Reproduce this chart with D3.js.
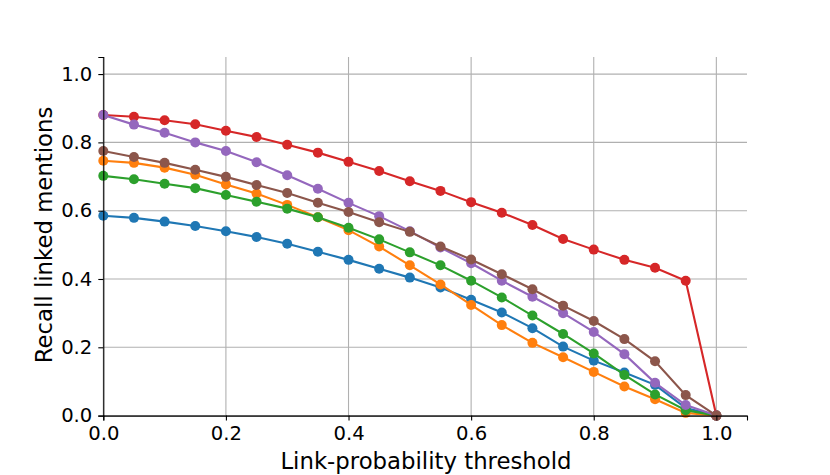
<!DOCTYPE html>
<html>
<head>
<meta charset="utf-8">
<script src="https://cdn.jsdelivr.net/npm/d3@7"></script>
<style>
body { margin: 0; background: #fff; }
text { font-family: "DejaVu Sans", sans-serif; fill: #000; }
</style>
</head>
<body>
<script>
//thresholds on the x axis
var thresholds = [0, 0.05, 0.1, 0.15, 0.2, 0.25, 0.3, 0.35, 0.4, 0.45, 0.5,
                  0.55, 0.6, 0.65, 0.7, 0.75, 0.8, 0.85, 0.9, 0.95, 1.0];

//recall values per series
var blueVals   = [0.585, 0.579, 0.568, 0.555, 0.540, 0.523, 0.503, 0.480, 0.456, 0.430, 0.404,
                  0.375, 0.339, 0.302, 0.256, 0.202, 0.161, 0.126, 0.090, 0.022, 0.0];
var orangeVals = [0.746, 0.740, 0.726, 0.705, 0.677, 0.650, 0.617, 0.581, 0.543, 0.495, 0.440,
                  0.384, 0.324, 0.265, 0.213, 0.171, 0.128, 0.085, 0.048, 0.008, 0.0];
var greenVals  = [0.702, 0.692, 0.679, 0.666, 0.646, 0.626, 0.606, 0.581, 0.550, 0.516, 0.478,
                  0.440, 0.395, 0.346, 0.293, 0.239, 0.182, 0.119, 0.062, 0.016, 0.0];
var redVals    = [0.880, 0.875, 0.865, 0.853, 0.834, 0.816, 0.793, 0.770, 0.743, 0.716, 0.686,
                  0.658, 0.625, 0.594, 0.558, 0.517, 0.486, 0.456, 0.433, 0.395, 0.0];
var purpleVals = [0.880, 0.852, 0.828, 0.800, 0.775, 0.742, 0.704, 0.664, 0.623, 0.584, 0.540,
                  0.492, 0.446, 0.395, 0.348, 0.300, 0.245, 0.180, 0.096, 0.031, 0.0];
var brownVals  = [0.775, 0.757, 0.740, 0.720, 0.699, 0.675, 0.652, 0.623, 0.596, 0.566, 0.538,
                  0.495, 0.457, 0.414, 0.370, 0.322, 0.277, 0.224, 0.159, 0.060, 0.0];

var seriesList = [blueVals, orangeVals, greenVals, redVals, purpleVals, brownVals];
var colors = ["#1f77b4", "#ff7f0e", "#2ca02c", "#d62728", "#9467bd", "#8c564b"];

var tickVals = [0, 0.2, 0.4, 0.6, 0.8, 1.0];

//frame dimensions
var svgWidth = 830,
    svgHeight = 475,
    plotLeft = 103.3,
    plotRight = 747,
    plotTop = 57,
    plotBottom = 415.6;

var svg = d3.select("body")
    .append("svg")
    .attr("width", svgWidth)
    .attr("height", svgHeight);

var xScale = d3.scaleLinear().domain([0, 1.05]).range([plotLeft, plotRight]);
var yScale = d3.scaleLinear().domain([0, 1.05]).range([plotBottom, plotTop]);

//grid lines
svg.selectAll(".xgrid")
    .data(tickVals)
    .enter()
    .append("line")
    .attr("x1", function(d){ return xScale(d); })
    .attr("x2", function(d){ return xScale(d); })
    .attr("y1", plotTop)
    .attr("y2", plotBottom)
    .attr("stroke", "#b0b0b0")
    .attr("stroke-width", 1.1);

svg.selectAll(".ygrid")
    .data(tickVals)
    .enter()
    .append("line")
    .attr("x1", plotLeft)
    .attr("x2", plotRight)
    .attr("y1", function(d){ return yScale(d); })
    .attr("y2", function(d){ return yScale(d); })
    .attr("stroke", "#b0b0b0")
    .attr("stroke-width", 1.1);

//series lines and markers
var line = d3.line()
    .x(function(d, i){ return xScale(thresholds[i]); })
    .y(function(d){ return yScale(d); });

seriesList.forEach(function(vals, k){
    var g = svg.append("g");
    g.append("path")
        .datum(vals)
        .attr("d", line)
        .attr("fill", "none")
        .attr("stroke", colors[k])
        .attr("stroke-width", 2.1);
    g.selectAll("circle")
        .data(vals)
        .enter()
        .append("circle")
        .attr("cx", function(d, i){ return xScale(thresholds[i]); })
        .attr("cy", function(d){ return yScale(d); })
        .attr("r", 5)
        .attr("fill", colors[k]);
});

//axes
var xAxis = d3.axisBottom(xScale)
    .tickValues(tickVals)
    .tickFormat(d3.format(".1f"))
    .tickSize(5)
    .tickPadding(5);

var yAxis = d3.axisLeft(yScale)
    .tickValues(tickVals)
    .tickFormat(d3.format(".1f"))
    .tickSize(5)
    .tickPadding(6);

var gx = svg.append("g")
    .attr("transform", "translate(0," + plotBottom + ")")
    .call(xAxis);

var gy = svg.append("g")
    .attr("transform", "translate(" + plotLeft + ",0)")
    .call(yAxis);

[gx, gy].forEach(function(g){
    g.select(".domain").attr("stroke", "#000").attr("stroke-width", 1.1);
    g.selectAll(".tick line").attr("stroke", "#000").attr("stroke-width", 1.1);
    g.selectAll(".tick text")
        .attr("fill", "#000")
        .style("font-family", "DejaVu Sans")
        .style("font-size", "19.6px");
});

//axis titles
svg.append("text")
    .attr("x", 426)
    .attr("y", 469)
    .attr("text-anchor", "middle")
    .style("font-size", "22.8px")
    .text("Link-probability threshold");

svg.append("text")
    .attr("transform", "translate(52,235) rotate(-90)")
    .attr("text-anchor", "middle")
    .style("font-size", "22.8px")
    .text("Recall linked mentions");
</script>
</body>
</html>
